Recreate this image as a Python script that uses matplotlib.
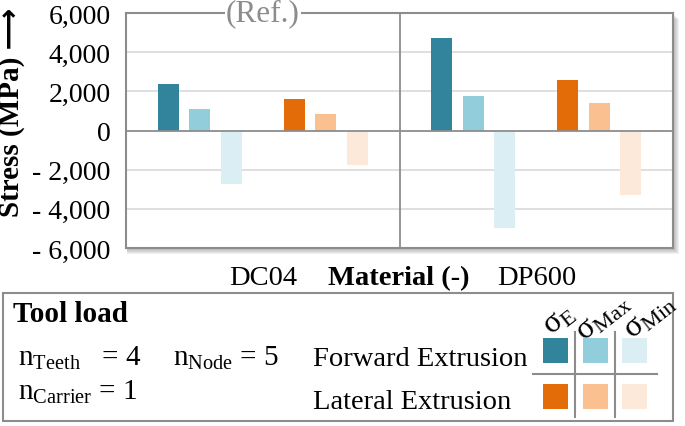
import matplotlib
matplotlib.use("Agg")
import matplotlib.pyplot as plt
from matplotlib.patches import Rectangle
from matplotlib.lines import Line2D

plt.rcParams['font.family'] = ['Liberation Serif', 'DejaVu Sans']
plt.rcParams['mathtext.fontset'] = 'custom'
plt.rcParams['mathtext.rm'] = 'Liberation Serif'
plt.rcParams['mathtext.it'] = 'Liberation Serif:italic'
plt.rcParams['mathtext.bf'] = 'Liberation Serif:bold'

# data (MPa)
materials = ['DC04', 'DP600']
forward_E = [2350, 4700]
forward_max = [1100, 1750]
forward_min = [-2750, -5000]
lateral_E = [1600, 2560]
lateral_max = [830, 1400]
lateral_min = [-1750, -3300]
yticks = [-6000, -4000, -2000, 0, 2000, 4000, 6000]
ytick_labels = ['- 6,000', '- 4,000', '- 2,000', '0', '2,000', '4,000', '6,000']

fwd_colors = ['#31849B', '#92CDDC', '#DAEEF3']
lat_colors = ['#E36C09', '#FAC090', '#FDE9D9']
gray = '#8c8c8c'

W, H = 685, 427
fig = plt.figure(figsize=(6.85, 4.27), dpi=100)
ax_box = [126 / W, 1 - 249 / H, (673 - 126) / W, (249 - 14) / H]
ax = fig.add_axes(ax_box)
ax.set_facecolor('white')

series = [forward_E, forward_max, forward_min, lateral_E, lateral_max, lateral_min]
colors = fwd_colors + lat_colors
offsets = [-0.345, -0.23, -0.115, 0.115, 0.23, 0.345]
x = range(len(materials))
for vals, c, off in zip(series, colors, offsets):
    ax.bar([i + off for i in x], vals, width=0.077, color=c, zorder=3)

ax.set_xlim(-0.5, 1.5)
ax.set_ylim(-6000, 6000)
for y in [-4000, -2000, 2000, 4000]:
    ax.axhline(y, color='#d9d9d9', lw=1.2, zorder=1)
ax.axhline(0, color=gray, lw=1.3, zorder=4)
ax.axvline(0.5, color=gray, lw=1.3, zorder=4)
for s in ax.spines.values():
    s.set_color(gray)
    s.set_linewidth(1.5)

ax.set_yticks(yticks)
ax.set_yticklabels(ytick_labels, fontsize=20)
ax.set_xticks([])
ax.tick_params(axis='y', length=0, pad=11)

ax.text(0.0, 6000, '(Ref.)', ha='center', va='center', fontsize=22.5, color=gray,
        bbox=dict(facecolor='white', edgecolor='none', pad=1), zorder=6, clip_on=False)

# soft shadow under plot frame (bottom / right)
for k in range(6, 0, -1):
    fig.patches.append(Rectangle((ax_box[0] + 1 / W, ax_box[1] - k / H), ax_box[2] + (k - 1) / W,
                                 ax_box[3], transform=fig.transFigure, facecolor='#606060',
                                 edgecolor='none', alpha=0.09, zorder=-1))

# axis labels
fig.text(12 / W, 1 - 112 / H, 'Stress (MPa) \u27F6', rotation=90, ha='center', va='center',
         fontsize=21, fontweight='bold')
fig.text(263 / W, 1 - 285 / H, materials[0], ha='center', va='baseline', fontsize=20.5)
fig.text(537 / W, 1 - 285 / H, materials[1], ha='center', va='baseline', fontsize=20.5)
fig.text(399 / W, 1 - 285 / H, 'Material (-)', ha='center', va='baseline', fontsize=20.5,
         fontweight='bold')

# legend box
fig.patches.append(Rectangle((3 / W, 1 - 422 / H), 670 / W, 128 / H, transform=fig.transFigure,
                             facecolor='none', edgecolor=gray, lw=1.5))
fig.text(13 / W, 1 - 322 / H, 'Tool load', fontsize=21, fontweight='bold', va='baseline')
fig.text(18 / W, 1 - 366 / H, r'n$_{\mathregular{Teeth}}$   = 4', fontsize=21, va='baseline')
fig.text(173 / W, 1 - 366 / H, r'n$_{\mathregular{Node}}$ = 5', fontsize=21, va='baseline')
fig.text(18 / W, 1 - 400 / H, r'n$_{\mathregular{Carrier}}$ = 1', fontsize=21, va='baseline')
fig.text(313 / W, 1 - 366 / H, 'Forward Extrusion', fontsize=20.5, va='baseline')
fig.text(313 / W, 1 - 409 / H, 'Lateral Extrusion', fontsize=20.5, va='baseline')

cols = [543, 583, 622]
for cx, fc, lc in zip(cols, fwd_colors, lat_colors):
    fig.patches.append(Rectangle((cx / W, 1 - 364 / H), 25 / W, 25 / H, transform=fig.transFigure,
                                 facecolor=fc, edgecolor='none'))
    fig.patches.append(Rectangle((cx / W, 1 - 410 / H), 25 / W, 25 / H, transform=fig.transFigure,
                                 facecolor=lc, edgecolor='none'))
for vx in [575, 615]:
    fig.add_artist(Line2D([vx / W, vx / W], [1 - 418 / H, 1 - 333 / H], color=gray, lw=1.5))
fig.add_artist(Line2D([533 / W, 657 / W], [1 - 375 / H, 1 - 375 / H], color=gray, lw=1.5))

headers = [r'σ$_{\mathregular{E}}$', r'σ$_{\mathregular{Max}}$', r'σ$_{\mathregular{Min}}$']
hpos = [(559, 320), (603, 317), (650, 317)]
for t, (hx, hy) in zip(headers, hpos):
    fig.text(hx / W, 1 - hy / H, t, fontsize=23, rotation=38, ha='center', va='center',
             rotation_mode='anchor')

fig.savefig('out.png', dpi=100)
